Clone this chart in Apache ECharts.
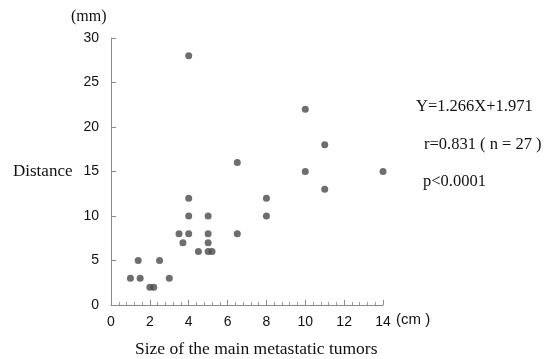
<!DOCTYPE html>
<html>
<head>
<meta charset="utf-8">
<script src="https://cdn.jsdelivr.net/npm/echarts@6/dist/echarts.min.js"></script>
<style>
  html, body { margin: 0; padding: 0; background: #fff; }
  #chart { width: 558px; height: 359px; }
</style>
</head>
<body>
<div id="chart"></div>
<script>
// tumor size (cm) vs distance (mm)
const sizeCm = [1, 1.4, 1.5, 2, 2.2, 2.5, 3, 3.5, 3.7, 4, 4, 4, 4, 4.5, 5, 5, 5, 5, 5.2, 6.5, 6.5, 8, 8, 10, 10, 11, 11, 14];
const distMm = [3, 5, 3, 2, 2, 5, 3, 8, 7, 28, 12, 10, 8, 6, 10, 8, 7, 6, 6, 16, 8, 12, 10, 22, 15, 18, 13, 15];

const statLines = ['Y=1.266X+1.971', 'r=0.831 ( n = 27 )', 'p<0.0001'];

const points = sizeCm.map((x, i) => [x, distMm[i]]);

const chart = echarts.init(document.getElementById('chart'));

const serif = '"Liberation Serif", "DejaVu Serif", serif';
const sans = '"Liberation Sans", Arial, sans-serif';

chart.setOption({
  animation: false,
  backgroundColor: '#ffffff',
  grid: { left: 111, right: 175, top: 38, bottom: 54 },
  xAxis: {
    type: 'value',
    min: 0,
    max: 14,
    interval: 2,
    axisLine: { lineStyle: { color: '#8a8a8a', width: 1 } },
    axisTick: { inside: true, length: 5, lineStyle: { color: '#8a8a8a' } },
    minorTick: { show: true, splitNumber: 5, length: 3, lineStyle: { color: '#9a9a9a' } },
    axisLabel: { color: '#111', fontFamily: sans, fontSize: 14, margin: 10 },
    splitLine: { show: false }
  },
  yAxis: {
    type: 'value',
    min: 0,
    max: 30,
    interval: 5,
    axisLine: { show: true, lineStyle: { color: '#8a8a8a', width: 1 } },
    axisTick: { show: true, inside: true, length: 5, lineStyle: { color: '#8a8a8a' } },
    axisLabel: { color: '#111', fontFamily: sans, fontSize: 14, margin: 12 },
    splitLine: { show: false }
  },
  series: [{
    type: 'scatter',
    data: points,
    symbolSize: 7,
    itemStyle: { color: '#4a4a4a' }
  }],
  graphic: [
    { type: 'text', left: 71, top: 9, style: { text: '(mm)', font: '16px ' + serif, fill: '#111' } },
    { type: 'text', left: 13, top: 163, style: { text: 'Distance', font: '17px ' + serif, fill: '#111' } },
    { type: 'text', left: 396, top: 312, style: { text: '(cm )', font: '15px ' + sans, fill: '#111', textLetterSpacing: 1 } },
    { type: 'text', left: 135, top: 340, style: { text: 'Size of the main metastatic tumors', font: '17.5px ' + serif, fill: '#111' } },
    { type: 'text', left: 416, top: 98, style: { text: statLines[0], font: '16.5px ' + serif, fill: '#111' } },
    { type: 'text', left: 424, top: 136, style: { text: statLines[1], font: '16.5px ' + serif, fill: '#111' } },
    { type: 'text', left: 423, top: 173, style: { text: statLines[2], font: '16.5px ' + serif, fill: '#111' } }
  ]
});
</script>
</body>
</html>
